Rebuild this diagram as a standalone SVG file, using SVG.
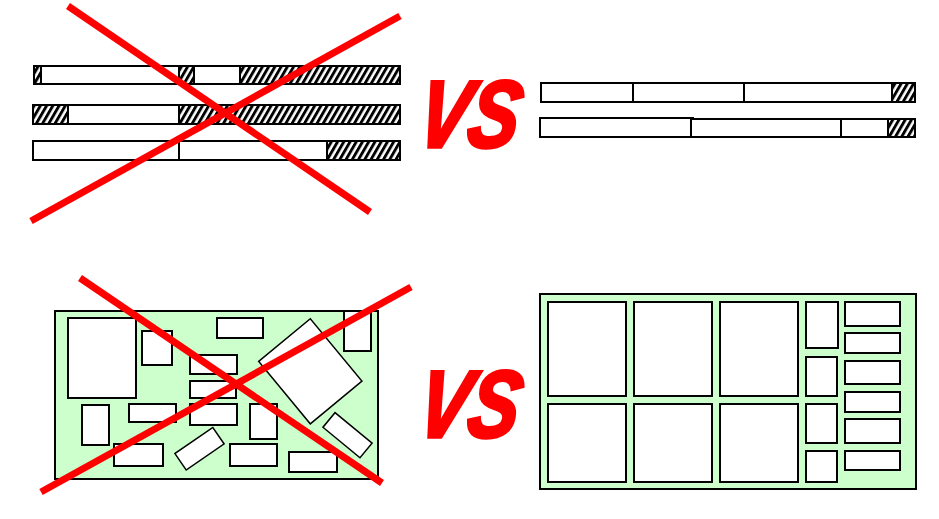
<svg xmlns="http://www.w3.org/2000/svg" width="939" height="519" viewBox="0 0 939 519">
<defs>
<pattern id="hatch" patternUnits="userSpaceOnUse" width="5.4" height="10" patternTransform="rotate(30)">
<rect x="0" y="0" width="5.4" height="10" fill="#fff"/>
<rect x="0" y="0" width="2.9" height="10" fill="#000"/>
</pattern>
</defs>
<style>
.seg{fill:#fff;stroke:#000;stroke-width:2}
.h{fill:url(#hatch);stroke:#000;stroke-width:2}
.board{fill:#CCFFCC;stroke:#000;stroke-width:2}
.c{fill:#fff;stroke:#000;stroke-width:2}
.cr{fill:#fff;stroke:#000;stroke-width:1.5}
.x{stroke:#FF0000;stroke-width:7;stroke-linecap:butt;fill:none}
.vs{font-family:"Liberation Sans",Arial,sans-serif;font-weight:bold;font-style:italic;font-size:95px;fill:#FF0000;stroke:#FF0000;stroke-width:3.5;stroke-linejoin:miter}
</style>
<rect width="939" height="519" fill="#fff"/>

<g id="bars-bad">
<rect class="h" x="34" y="66" width="7" height="18"/>
<rect class="seg" x="41" y="66" width="138" height="18"/>
<rect class="h" x="179" y="66" width="15" height="18"/>
<rect class="seg" x="194" y="66" width="46" height="18"/>
<rect class="h" x="240" y="66" width="160" height="18"/>
<rect class="h" x="33" y="105" width="35" height="19"/>
<rect class="seg" x="68" y="105" width="111" height="19"/>
<rect class="h" x="179" y="105" width="221" height="19"/>
<rect class="seg" x="33" y="141" width="146" height="19"/>
<rect class="seg" x="179" y="141" width="148" height="19"/>
<rect class="h" x="327" y="141" width="73" height="19"/>
</g>

<g id="bars-good">
<rect class="seg" x="541" y="83" width="92" height="19"/>
<rect class="seg" x="633" y="83" width="111" height="19"/>
<rect class="seg" x="744" y="83" width="148" height="19"/>
<rect class="h" x="892" y="83" width="23" height="19"/>
<rect class="seg" x="540" y="118" width="151" height="19"/>
<line x1="540" y1="117.5" x2="694" y2="117.5" stroke="#000" stroke-width="1"/>
<rect class="seg" x="691" y="119" width="150" height="18"/>
<rect class="seg" x="841" y="119" width="47" height="18"/>
<rect class="h" x="888" y="119" width="27" height="18"/>
</g>

<g id="board-bad">
<rect class="board" x="55" y="311" width="323" height="168"/>
<rect class="c" x="68" y="318" width="68" height="80"/>
<rect class="c" x="142" y="331" width="30" height="34"/>
<rect class="c" x="217" y="318" width="46" height="20"/>
<rect class="c" x="344" y="311" width="27" height="40"/>
<rect class="c" x="190" y="355" width="47" height="19"/>
<rect class="c" x="190" y="381" width="46" height="17"/>
<rect class="c" x="190" y="404" width="47" height="21"/>
<rect class="c" x="82" y="405" width="27" height="40"/>
<rect class="c" x="129" y="404" width="47" height="18"/>
<rect class="c" x="250" y="404" width="27" height="35"/>
<rect class="c" x="114" y="444" width="49" height="22"/>
<rect class="c" x="230" y="444" width="47" height="22"/>
<rect class="c" x="289" y="452" width="48" height="20"/>
<rect class="cr" x="-23" y="-10" width="46" height="20" transform="translate(199.5 448.7) rotate(-34.5)"/>
<rect class="cr" x="-33.5" y="-40.5" width="67" height="81" transform="translate(310.3 371.3) rotate(-39.6)"/>
<rect class="cr" x="-24" y="-9.5" width="48" height="19" transform="translate(347.5 435.2) rotate(39.5)"/>
</g>

<g id="board-good">
<rect class="board" x="540" y="294" width="376" height="195"/>
<rect class="c" x="548" y="302" width="78" height="94"/>
<rect class="c" x="634" y="302" width="78" height="94"/>
<rect class="c" x="720" y="302" width="78" height="94"/>
<rect class="c" x="548" y="404" width="78" height="78"/>
<rect class="c" x="634" y="404" width="78" height="78"/>
<rect class="c" x="720" y="404" width="78" height="78"/>
<rect class="c" x="806" y="302" width="32" height="46"/>
<rect class="c" x="806" y="357" width="31" height="39"/>
<rect class="c" x="806" y="404" width="31" height="39"/>
<rect class="c" x="806" y="451" width="31" height="31"/>
<rect class="c" x="845" y="302" width="55" height="24"/>
<rect class="c" x="845" y="333" width="55" height="20"/>
<rect class="c" x="845" y="361" width="55" height="23"/>
<rect class="c" x="845" y="392" width="55" height="20"/>
<rect class="c" x="845" y="419" width="55" height="24"/>
<rect class="c" x="845" y="451" width="55" height="19"/>
</g>

<g id="crosses">
<line class="x" x1="68" y1="6" x2="370" y2="212"/>
<line class="x" x1="400" y1="16" x2="31" y2="221"/>
<line class="x" x1="80" y1="278" x2="382" y2="483" stroke-width="8"/>
<line class="x" x1="411" y1="287" x2="41" y2="492" stroke-width="8"/>
</g>

<g id="vs-top">
<text class="vs" transform="translate(414 146.5) skewX(-10)" x="0" y="0" textLength="101" lengthAdjust="spacingAndGlyphs">VS</text>
</g>
<g id="vs-bottom">
<text class="vs" transform="translate(414 436.5) skewX(-10)" x="0" y="0" textLength="101" lengthAdjust="spacingAndGlyphs">VS</text>
</g>
</svg>
